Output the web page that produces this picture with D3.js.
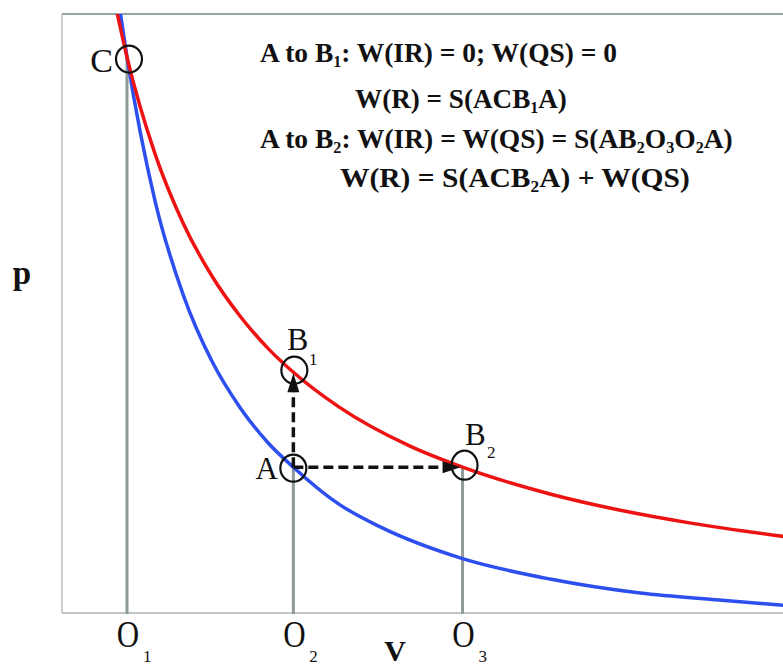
<!DOCTYPE html>
<html><head><meta charset="utf-8">
<script src="https://cdn.jsdelivr.net/npm/d3@7"></script>
<style>html,body{margin:0;padding:0;background:#fff;}svg{display:block;}</style>
</head><body>
<svg id="chart" width="783" height="668"></svg>
<script>
// ---- data ----
const isothermV = [0.92, 1.0, 1.2, 1.4, 1.6, 1.8, 2.0, 2.18, 2.5, 3.0, 3.38, 4.0, 4.5, 5.0, 5.66];
const isothermP = [1.087, 1.0, 0.833, 0.714, 0.625, 0.556, 0.5, 0.459, 0.4, 0.333, 0.296, 0.25, 0.222, 0.2, 0.177];
const adiabatV = [0.95, 1.0, 1.2, 1.4, 1.6, 1.8, 2.0, 2.18, 2.5, 2.8, 3.38, 4.0, 4.64, 5.2, 5.66];
const adiabatP = [1.08, 1.0, 0.752, 0.591, 0.479, 0.399, 0.338, 0.296, 0.233, 0.193, 0.139, 0.104, 0.080, 0.068, 0.059];
const pointNames = ["C", "A", "B", "B"];
const pointSubs = ["", "", "1", "2"];
const pointV = [1.0, 2.18, 2.18, 3.38];
const pointP = [1.0, 0.296, 0.459, 0.296];
const tickV = [1.0, 2.18, 3.38];
const tickMain = ["O", "O", "O"];
const tickSubs = ["1", "2", "3"];
const noteLines = [
  [["A to B", ""], ["1", "s"], [": W(IR) = 0; W(QS) = 0", ""]],
  [["W(R) = S(ACB", ""], ["1", "s"], ["A)", ""]],
  [["A to B", ""], ["2", "s"], [": W(IR) = W(QS) = S(AB", ""], ["2", "s"], ["O", ""], ["3", "s"], ["O", ""], ["2", "s"], ["A)", ""]],
  [["W(R) = S(ACB", ""], ["2", "s"], ["A) + W(QS)", ""]]
];
const noteX = [260, 355, 260, 340];
const noteY = [62, 108, 148, 187];
const noteW = [357, 212, 473, 350];

// ---- layout ----
const svg = d3.select("#chart");
const L = 62, R = 783, T = 14, B = 613;
const x = d3.scaleLinear().domain([0.539, 5.653]).range([L, R]);
const y = d3.scaleLinear().domain([0.0457, 1.0739]).range([B, T]);
const serif = "'Liberation Serif', 'Times New Roman', serif";

svg.append("defs").append("clipPath").attr("id", "plotclip")
  .append("rect").attr("x", L).attr("y", T).attr("width", R - L).attr("height", B - T);

// frame
svg.append("line").attr("x1", L).attr("x2", L).attr("y1", T).attr("y2", B)
  .attr("stroke", "#c9cece").attr("stroke-width", 2);
svg.append("line").attr("x1", L).attr("x2", R).attr("y1", T).attr("y2", T)
  .attr("stroke", "#98a3a3").attr("stroke-width", 2);
svg.append("line").attr("x1", L).attr("x2", R).attr("y1", B).attr("y2", B)
  .attr("stroke", "#a9b3b3").attr("stroke-width", 1.5);

// drop lines
const dropTo = [[tickV[0], pointP[0]], [tickV[1], pointP[1]], [tickV[2], pointP[3]]];
svg.selectAll(".drop").data(dropTo).enter().append("line")
  .attr("x1", d => x(d[0])).attr("x2", d => x(d[0]))
  .attr("y1", B + 1).attr("y2", d => y(d[1]))
  .attr("stroke", "#8d9b9b").attr("stroke-width", 3);

// curves
const line = d3.line().x(d => x(d[0])).y(d => y(d[1])).curve(d3.curveMonotoneX);
const g = svg.append("g").attr("clip-path", "url(#plotclip)");
g.append("path").datum(adiabatV.map((v, i) => [v, adiabatP[i]]))
  .attr("d", line).attr("fill", "none").attr("stroke", "#2d4ff0").attr("stroke-width", 3.5);
g.append("path").datum(isothermV.map((v, i) => [v, isothermP[i]]))
  .attr("d", line).attr("fill", "none").attr("stroke", "#ee1313").attr("stroke-width", 3.5);

// dashed arrows A->B1 and A->B2
const ax = x(pointV[1]), ay = y(pointP[1]);
const b1x = x(pointV[2]), b1y = y(pointP[2]);
const b2x = x(pointV[3]), b2y = y(pointP[3]);
const headL = 18, headW = 6;
svg.append("line").attr("x1", ax).attr("y1", ay).attr("x2", b1x).attr("y2", b1y + headL)
  .attr("stroke", "#111").attr("stroke-width", 3.5).attr("stroke-dasharray", "10,5");
svg.append("path").attr("d", `M${b1x},${b1y + 1}L${b1x - headW},${b1y + headL + 2}L${b1x + headW},${b1y + headL + 2}Z`)
  .attr("fill", "#111");
svg.append("line").attr("x1", ax).attr("y1", ay).attr("x2", b2x - headL).attr("y2", b2y)
  .attr("stroke", "#111").attr("stroke-width", 3.5).attr("stroke-dasharray", "10,5");
svg.append("path").attr("d", `M${b2x - 2},${b2y}L${b2x - headL - 2},${b2y - headW}L${b2x - headL - 2},${b2y + headW}Z`)
  .attr("fill", "#111");

// circles
const circOff = [[2, 2], [0, 1], [1, -2], [2, -2]];
svg.selectAll(".pt").data(pointV).enter().append("ellipse")
  .attr("cx", (d, i) => x(d) + circOff[i][0]).attr("cy", (d, i) => y(pointP[i]) + circOff[i][1])
  .attr("rx", 13).attr("ry", (d, i) => i === 3 ? 14.5 : 13.5)
  .attr("fill", "none").attr("stroke", "#111").attr("stroke-width", 2.2);

// point labels
const lblPos = [[113, 72, 34, "end"], [278, 479, 31, "end"], [287, 350, 32, "start"], [465, 445, 31, "start"]];
pointNames.forEach((n, i) => {
  const p = lblPos[i];
  svg.append("text").attr("x", p[0]).attr("y", p[1]).attr("font-family", serif)
    .attr("font-size", p[2]).attr("text-anchor", p[3]).attr("fill", "#111").text(n);
  if (pointSubs[i]) {
    svg.append("text").attr("x", p[0] + 22).attr("y", p[1] + (i === 2 ? 15 : 13)).attr("font-family", serif)
      .attr("font-size", 17).attr("fill", "#111").text(pointSubs[i]);
  }
});

// x ticks (O1, O2, O3)
const xAxis = d3.axisBottom(x).tickValues(tickV).tickSize(0).tickFormat("");
const axg = svg.append("g").attr("transform", `translate(0,${B})`).call(xAxis);
axg.select(".domain").remove();
tickV.forEach((v, i) => {
  const cx = x(v) + 1;
  svg.append("text").attr("transform", `translate(${cx},647) scale(1,1.25)`)
    .attr("text-anchor", "middle").attr("font-family", serif).attr("font-size", 31)
    .attr("fill", "#111").text(tickMain[i]);
  svg.append("text").attr("x", cx + 15).attr("y", 662).attr("font-family", serif)
    .attr("font-size", 17).attr("fill", "#111").text(tickSubs[i]);
});

// axis titles
svg.append("text").attr("x", 395).attr("y", 661).attr("text-anchor", "middle")
  .attr("font-family", serif).attr("font-weight", "bold").attr("font-size", 30).attr("fill", "#111").text("V");
svg.append("text").attr("x", 22).attr("y", 284).attr("text-anchor", "middle")
  .attr("font-family", serif).attr("font-weight", "bold").attr("font-size", 33).attr("fill", "#111").text("p");

// annotation lines
noteLines.forEach((parts, i) => {
  const t = svg.append("text").attr("font-family", serif).attr("font-weight", "bold")
    .attr("font-size", 25.5).attr("fill", "#111");
  let shifted = false;
  parts.forEach(pt => {
    const ts = t.append("tspan").text(pt[0]);
    if (pt[1] === "s") { ts.attr("font-size", 15).attr("dy", 5); shifted = true; }
    else if (shifted) { ts.attr("dy", -5); shifted = false; }
  });
  const w = t.node().getComputedTextLength();
  const sx = noteW[i] / w;
  t.attr("transform", `translate(${noteX[i]},${noteY[i]}) scale(${sx},1.05)`);
});
</script>
</body></html>
